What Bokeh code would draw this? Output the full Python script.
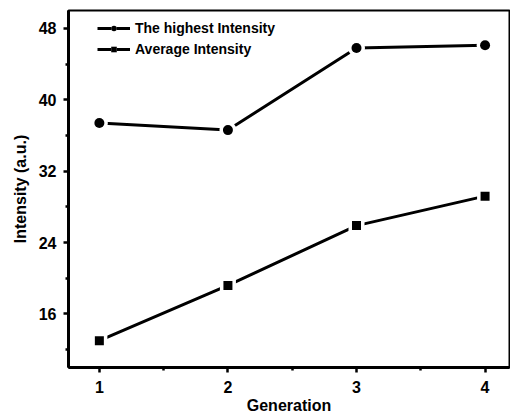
from bokeh.plotting import figure
from bokeh.models import Range1d, FixedTicker, Legend, LegendItem
from bokeh.embed import file_html
from bokeh.resources import INLINE

generation = [1, 2, 3, 4]
highest_intensity = [37.4, 36.6, 45.8, 46.1]
average_intensity = [13.0, 19.2, 25.9, 29.2]
y_ticks = [16, 24, 32, 40, 48]
y_minor = [12, 20, 28, 36, 44]
x_ticks = [1, 2, 3, 4]
x_minor = [1.5, 2.5, 3.5]

FONT = "Liberation Sans"

p = figure(width=510, height=416, output_backend="svg", toolbar_location=None,
           x_range=Range1d(0.76, 4.19), y_range=Range1d(10, 50),
           min_border_left=68, min_border_right=1, min_border_top=10, min_border_bottom=47)
p.grid.visible = False
p.outline_line_color = "black"
p.outline_line_width = 2
p.background_fill_color = "white"

for ax, ticks, minor in ((p.xaxis[0], x_ticks, x_minor), (p.yaxis[0], y_ticks, y_minor)):
    ax.ticker = FixedTicker(ticks=ticks, minor_ticks=minor)
    ax.axis_line_width = 3
    ax.axis_line_color = "black"
    ax.major_tick_line_width = 2.5
    ax.minor_tick_line_width = 2.5
    ax.major_tick_out = 5
    ax.major_tick_in = 0
    ax.minor_tick_out = 3
    ax.minor_tick_in = 0
    ax.major_label_text_font = FONT
    ax.major_label_text_font_style = "bold"
    ax.major_label_text_font_size = "16px"
    ax.major_label_text_color = "black"
    ax.axis_label_text_font = FONT
    ax.axis_label_text_font_style = "bold"
    ax.axis_label_text_font_size = "16px"
    ax.axis_label_text_color = "black"

p.xaxis.axis_label = "Generation"
p.yaxis.axis_label = "Intensity (a.u.)"
p.xaxis.major_label_standoff = 8
p.xaxis.axis_label_standoff = 1
p.yaxis.major_label_standoff = 7
p.yaxis.axis_label_standoff = 7

items = []
for ys, marker, bsize, wsize, label in (
        (highest_intensity, "circle", 10, 17, "The highest Intensity"),
        (average_intensity, "square", 9, 16, "Average Intensity")):
    l = p.line(generation, ys, line_color="black", line_width=3)
    w = p.scatter(generation, ys, marker=marker, size=wsize, fill_color="white", line_color=None)
    b = p.scatter(generation, ys, marker=marker, size=bsize, fill_color="black", line_color=None)
    items.append(LegendItem(label=label, renderers=[l, w, b]))

legend = Legend(items=items, location=(29, 310), margin=0, padding=0,
                glyph_width=33, glyph_height=14, label_standoff=5, spacing=5,
                label_height=14,
                label_text_font=FONT, label_text_font_style="bold",
                label_text_font_size="14px", label_text_color="black",
                border_line_color=None, background_fill_alpha=0)
p.add_layout(legend, "center")

open("out.html", "w").write(file_html(p, INLINE))
